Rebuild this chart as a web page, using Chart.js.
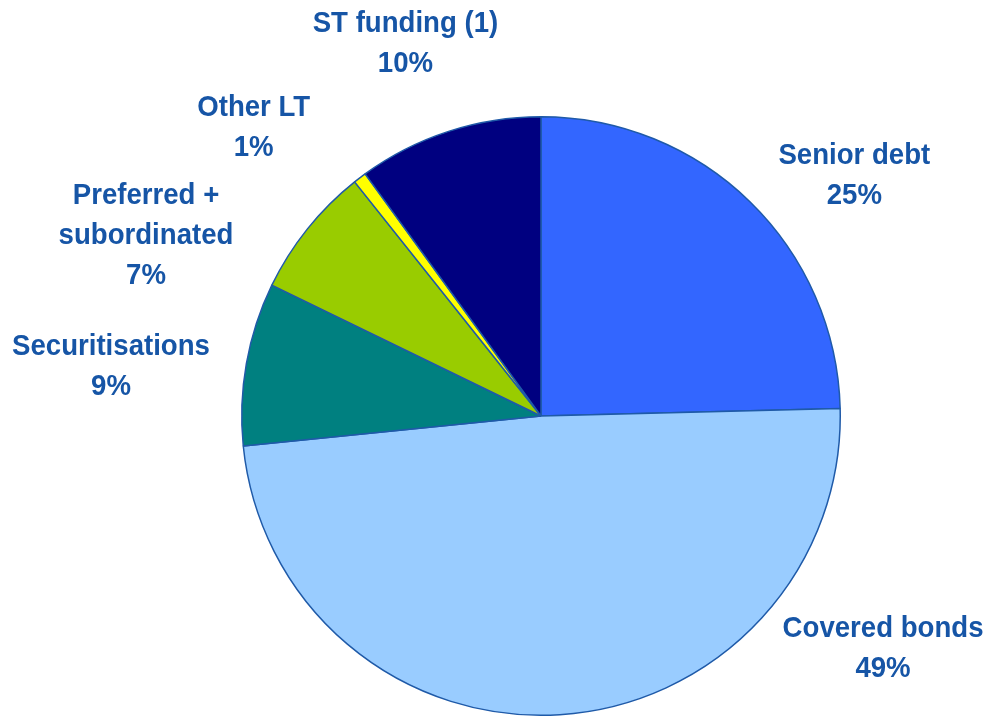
<!DOCTYPE html>
<html>
<head>
<meta charset="utf-8">
<script src="https://cdn.jsdelivr.net/npm/chart.js@4/dist/chart.umd.min.js"></script>
<style>
  body { margin: 0; background: #ffffff; }
  canvas { display: block; }
</style>
</head>
<body>
<canvas id="pieChart" width="1002" height="717"></canvas>
<script>
// data (share of total funding, %)
const CATEGORIES = ['Senior debt', 'Covered bonds', 'Securitisations', ['Preferred +', 'subordinated'], 'Other LT', 'ST funding (1)']
const SHARES = [24.6, 48.8, 8.8, 7.1, 0.7, 10.0]
const COLORS = ['#3366ff', '#99ccff', '#008080', '#99cc00', '#ffff00', '#000080']

// where each label block sits, relative to the pie centre, in units of radius
const LABEL_OFFSETS = [[1.047, -0.803], [1.143, 0.777], [-1.437, -0.163], [-1.32, -0.603], [-0.96, -0.963], [-0.453, -1.243]]

const TEXT_COLOR = '#1655a6'

// draws the category name + rounded percentage beside each slice
const sliceLabels = {
    id: 'sliceLabels',
    afterDatasetsDraw(chart) {
        const ctx = chart.ctx
        const arcs = chart.getDatasetMeta(0).data
        ctx.save()
        ctx.font = 'bold 30px "Liberation Sans", Arial, sans-serif'
        ctx.fillStyle = TEXT_COLOR
        ctx.textAlign = 'center'
        ctx.textBaseline = 'middle'
        arcs.forEach((arc, i) => {
            const r = arc.outerRadius
            const cx = arc.x + LABEL_OFFSETS[i][0] * r
            const cy = arc.y + LABEL_OFFSETS[i][1] * r
            const name = CATEGORIES[i]
            const lines = (Array.isArray(name) ? name.slice() : [name])
            lines.push(Math.round(SHARES[i]) + '%')
            const lineHeight = 40
            const top = cy - (lines.length - 1) * lineHeight / 2
            lines.forEach((line, j) => {
                ctx.save()
                ctx.translate(cx, top + j * lineHeight)
                ctx.scale(0.92, 1)
                ctx.fillText(line, 0, 0)
                ctx.restore()
            })
        })
        ctx.restore()
    }
}

const myPie = new Chart(document.getElementById('pieChart').getContext('2d'), {
    type: 'pie',
    data: {
        labels: CATEGORIES,
        datasets: [{
            data: SHARES,
            backgroundColor: COLORS,
            borderColor: '#1f5aa8',
            borderWidth: 1.5
        }]
    },
    options: {
        responsive: false,
        animation: false,
        layout: {
            padding: { left: 241, right: 161, top: 116, bottom: 1 }
        },
        plugins: {
            legend: { display: false },
            tooltip: { enabled: false }
        }
    },
    plugins: [sliceLabels]
})
</script>
</body>
</html>
